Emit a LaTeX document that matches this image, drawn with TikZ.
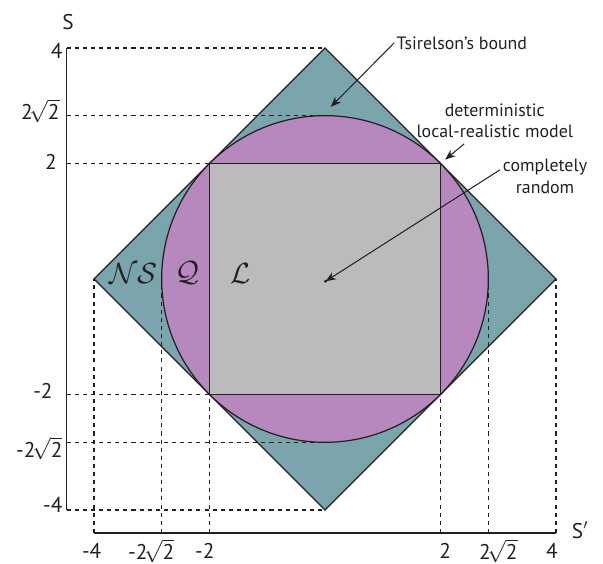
\documentclass[tikz,border=0pt]{standalone}
\usepackage{fontspec}
\setmainfont{PT Sans}
\usetikzlibrary{arrows.meta}
\definecolor{nsfill}{HTML}{7AA5AD}
\definecolor{qfill}{HTML}{B688BD}
\definecolor{lfill}{HTML}{BBBBBB}
\definecolor{ink}{HTML}{231F20}
\newcommand{\tworoot}{2\kern-1.6pt$\sqrt{\mbox{2}}$}
\tikzset{region/.style={draw=ink,line width=0.6pt},
 guide/.style={draw=ink,line width=0.6pt,dash pattern=on 2pt off 2pt},
 axisline/.style={draw=ink,line width=0.7pt},
 ticklabel/.style={font=\fontsize{10.5}{12}\selectfont,text=ink,inner sep=0pt},
 setlabel/.style={font=\fontsize{15}{18}\selectfont,text=ink,inner sep=0pt},
 note/.style={font=\fontsize{8.8}{10.7}\selectfont,align=center,text=ink,inner sep=1pt},
 notearrow/.style={-{Stealth[length=1.8mm,width=1.4mm]},draw=ink,line width=0.5pt}}

\begin{document}
\begin{tikzpicture}[x=1cm,y=1cm]
\useasboundingbox (-5.628,-4.935) rectangle (4.814,4.831);
% corners of the three sets
\coordinate (O) at (0,0);
\coordinate (top) at (0,4); \coordinate (bot) at (0,-4);
\coordinate (lft) at (-4,0); \coordinate (rgt) at (4,0);
\coordinate (qtop) at (0,{2*sqrt(2)}); \coordinate (qbot) at (0,{-2*sqrt(2)});
\coordinate (qlft) at ({-2*sqrt(2)},0); \coordinate (qrgt) at ({2*sqrt(2)},0);
\coordinate (ul) at (-2,2); \coordinate (ur) at (2,2);
\coordinate (ll) at (-2,-2); \coordinate (lr) at (2,-2);
\coordinate (yaxis) at (-4.476,0); \coordinate (xaxis) at (0,-4.398);
\path[region,fill=nsfill] (top)--(rgt)--(bot)--(lft)--cycle;
\path[region,fill=qfill] (O) circle ({2*sqrt(2)});
\path[region,fill=lfill] (ll) rectangle (ur);
% guides and axes
\foreach \p in {top,qtop,ul,ll,qbot,bot} \draw[guide] (\p -| yaxis) -- (\p);
\foreach \p in {lft,qlft,ll,lr,qrgt,rgt} \draw[guide] (\p |- xaxis) -- (\p);
\draw[axisline] (top -| yaxis) -- (bot -| yaxis);
\draw[axisline] (lft |- xaxis) -- (rgt |- xaxis);
\node[ticklabel] (sy) at (-4.45,4.45) {S};
\node[ticklabel] (sx) at (4.42,-4.35) {S$'$};
\foreach \x/\y/\t [count=\i] in {-4.54/3.95/4, -4.59/2.91/\tworoot, -4.64/2.03/2,
 -4.71/-1.94/-2, -4.54/-2.93/-\tworoot, -4.54/-3.91/-4}
 \node[ticklabel,anchor=east] (yt\i) at (\x,\y) {\t};
\foreach \x/\t [count=\i] in {-4.04/-4, -3.01/-\tworoot, -2.08/-2, 2.08/2, 3.0/\tworoot, 3.93/4}
 \node[ticklabel] (xt\i) at (\x,-4.71) {\t};
% sets
\node[setlabel] (ns) at (-3.32,0.10) {$\mathcal{NS}$};
\node[setlabel] (q) at (-2.39,0.10) {$\mathcal{Q}$};
\node[setlabel] (l) at (-1.47,0.10) {$\mathcal{L}$};
\coordinate (mid) at (0.01,-0.04);
\fill[ink] (mid) circle (0.8pt);
% notes
\node[note] (tsi) at (2.37,4.09) {Tsirelson's bound};
\node[note] (det) at (2.94,2.74) {deterministic\\local-realistic model};
\node[note] (rnd) at (3.81,1.78) {completely\\random};
\coordinate (tsitip) at (0.10,2.98);
\coordinate (dettail) at (2.41,2.34);
\coordinate (rndtail) at (3.03,1.89);
\draw[notearrow] (tsi.west) -- (tsitip);
\draw[notearrow,shorten >=3pt] (dettail) -- (ur);
\draw[notearrow] (rndtail) -- (mid);
\end{tikzpicture}
\end{document}
